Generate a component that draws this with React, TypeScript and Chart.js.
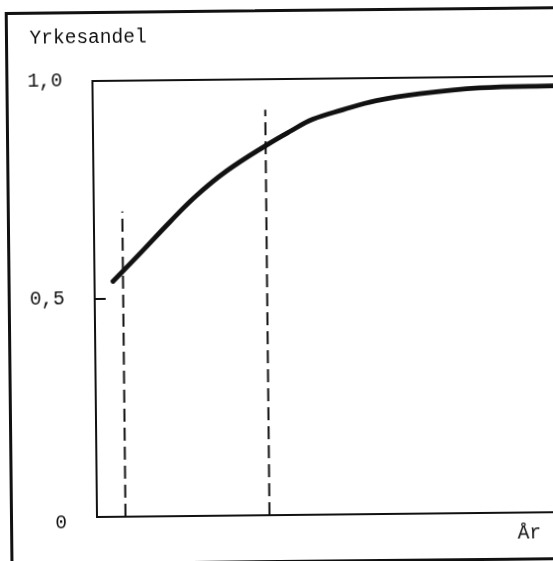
import React, { useEffect, useRef } from "react";
import { Chart, registerables } from "chart.js";

Chart.register(...registerables);

// ---- data ----
const yAxisTitle = "Yrkesandel";
const xAxisTitle = "År";
const curveYears = [3.7, 9.8, 15.2, 20.6, 26.6, 34.7, 39.3, 44.0, 50.0, 56.7, 65.4, 77.4, 92.0, 103];
const curveShare = [0.54, 0.611, 0.675, 0.735, 0.790, 0.849, 0.879, 0.907, 0.928, 0.948, 0.963, 0.975, 0.978, 0.979];
const markerYears = [5.7, 34.5];
const markerTops = [0.7, 0.93];
const yTicks = [0, 0.5, 1];
const yTickLabels = ["0", "0,5", "1,0"];
const xMin = 0;
const xMax = 103;

const FONT = "'Liberation Mono', 'DejaVu Sans Mono', monospace";
const INK = "#111";
const FONT_SIZE = 19.5;

export default function App() {
  const ref = useRef<HTMLCanvasElement | null>(null);

  useEffect(() => {
    const canvas = ref.current;
    if (!canvas) return;

    const extras = {
      id: "extras",
      afterLayout(chart: any) {
        // let the y tick labels use the whole left margin (no clipping)
        chart.scales.y.left = 0;
      },
      afterDatasetsDraw(chart: any) {
        const { ctx, chartArea, scales } = chart;
        const y = scales.y.getPixelForValue(0.5);
        ctx.save();
        ctx.strokeStyle = INK;
        ctx.lineWidth = 2;
        ctx.beginPath();
        ctx.moveTo(chartArea.left, y);
        ctx.lineTo(chartArea.left + 11, y);
        ctx.stroke();
        ctx.restore();
      },
      afterDraw(chart: any) {
        const { ctx, chartArea } = chart;
        ctx.save();
        ctx.fillStyle = INK;
        ctx.font = `${FONT_SIZE}px ${FONT}`;
        ctx.textAlign = "right";
        ctx.textBaseline = "alphabetic";
        ctx.fillText(xAxisTitle, 528, chartArea.bottom + 26);
        ctx.restore();
      },
    };

    const datasets: any[] = [
      {
        data: curveYears.map((x, i) => ({ x, y: curveShare[i] })),
        borderColor: INK,
        borderWidth: 4.8,
        pointRadius: 0,
        tension: 0.4,
        borderCapStyle: "round",
        fill: false,
      },
      ...markerYears.map((x, i) => ({
        data: [
          { x, y: 0 },
          { x, y: markerTops[i] },
        ],
        borderColor: INK,
        borderWidth: 2,
        borderDash: [13, 6],
        pointRadius: 0,
        fill: false,
      })),
    ];

    const chart = new Chart(canvas, {
      type: "line",
      data: { datasets },
      plugins: [extras],
      options: {
        animation: false,
        responsive: false,
        events: [],
        layout: { padding: { left: 21.6, right: 21, top: 0, bottom: 0 } },
        plugins: {
          legend: { display: false },
          tooltip: { enabled: false },
          title: {
            display: true,
            text: yAxisTitle,
            align: "start",
            color: INK,
            font: { family: FONT, size: FONT_SIZE, weight: "normal", lineHeight: 1.2 },
            padding: { top: 11.7, bottom: 31.9 },
          },
        },
        scales: {
          x: {
            type: "linear",
            min: xMin,
            max: xMax,
            grid: { display: true, drawOnChartArea: false, drawTicks: false },
            border: { display: true, color: INK, width: 2 },
            ticks: { display: false },
            afterFit(scale: any) {
              scale.height = 45;
            },
          },
          y: {
            type: "linear",
            min: 0,
            max: 1,
            afterBuildTicks(scale: any) {
              scale.ticks = yTicks.map((v) => ({ value: v }));
            },
            afterFit(scale: any) {
              scale.width = 84 - 21.6;
            },
            grid: {
              display: true,
              drawOnChartArea: true,
              drawTicks: false,
              color: (c: any) => (c.tick && c.tick.value === 1 ? INK : "rgba(0,0,0,0)"),
              lineWidth: 2,
            },
            border: { display: true, color: INK, width: 2 },
            ticks: {
              padding: 30,
              color: INK,
              font: (c: any) => ({
                family: FONT,
                size: FONT_SIZE,
                lineHeight: c.tick && c.tick.value === 0 ? "12px" : 1.2,
              }),
              callback: (v: any) => {
                const i = yTicks.indexOf(Number(v));
                const label = i >= 0 ? yTickLabels[i] : "";
                return Number(v) === 0 ? ["", label] : label;
              },
            },
          },
        },
      } as any,
    });

    return () => chart.destroy();
  }, []);

  return (
    <div
      style={{
        position: "fixed",
        left: 0,
        top: 0,
        width: 553,
        height: 561,
        overflow: "hidden",
        background: "#fff",
      }}
    >
      <div
        style={{
          position: "absolute",
          left: 0,
          top: 0,
          width: 660,
          height: 600,
          transform: "rotate(-0.6deg)",
          transformOrigin: "97px 517px",
        }}
      >
        <div
          style={{
            position: "absolute",
            left: 10,
            top: 11,
            width: 626,
            height: 554,
            border: `3px solid ${INK}`,
            boxSizing: "border-box",
          }}
        >
          <canvas
            ref={ref}
            width={620}
            height={548}
            style={{ position: "absolute", left: 0, top: 0, width: 620, height: 548 }}
          />
        </div>
      </div>
    </div>
  );
}
